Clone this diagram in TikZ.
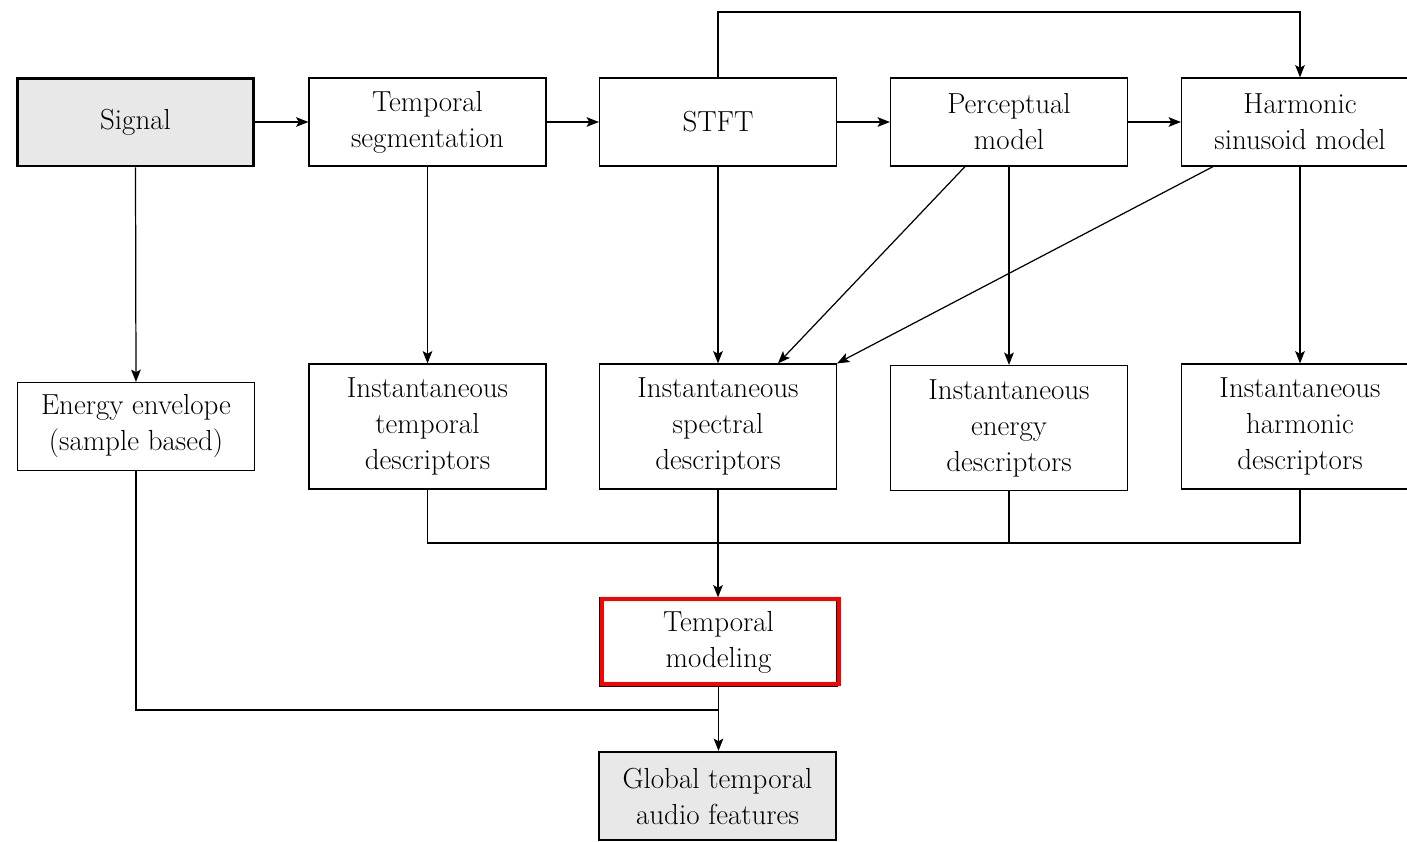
\documentclass[tikz,border=0pt]{standalone}
\usetikzlibrary{positioning,arrows.meta}
\definecolor{boxgray}{RGB}{232,232,232}
\tikzset{
  block/.style={draw, line width=0.7pt, fill=white, align=center,
    minimum width=4.74cm, minimum height=1.76cm, inner sep=2pt,
    font=\fontsize{16.5}{20.5}\selectfont},
  tallblock/.style={block, minimum height=2.5cm},
  endblock/.style={block, fill=boxgray, line width=1.3pt},
  wire/.style={line width=0.7pt}
}
\begin{document}
\begin{tikzpicture}[>={Stealth[length=7pt,width=5.5pt,inset=1.5pt]}, x=0.02cm, y=-0.02cm]
  \useasboundingbox[fill=white] (0,0) rectangle (1407,842);
  % Top row
  \node[endblock, line width=1.7pt] (signal) at (135.5,122) {Signal};
  \node[block] (seg) at (427.5,122) {Temporal\\segmentation};
  \node[block] (stft) at (718,122) {STFT};
  \node[block] (percep) at (1009,122) {Perceptual\\model};
  \node[block] (harm) at (1300,122) {Harmonic\\sinusoid model};
  % Descriptor row
  \node[block] (energy) at (136,426.5) {Energy envelope\\(sample based)};
  \node[tallblock] (itemp) at (427.5,426.5) {Instantaneous\\temporal\\descriptors};
  \node[tallblock] (ispec) at (718,426.5) {Instantaneous\\spectral\\descriptors};
  \node[tallblock] (ienergy) at (1009,428) {Instantaneous\\energy\\descriptors};
  \node[tallblock] (iharm) at (1300,426.5) {Instantaneous\\harmonic\\descriptors};
  % Modeling and output
  \node[block] (tmodel) at (718.5,642) {Temporal\\modeling};
  \draw[red, line width=2.4pt] ([shift={(2.5,-2.5)}]tmodel.south west) rectangle ([shift={(1.5,1.5)}]tmodel.north east);
  \node[endblock] (global) at (717.5,796) {Global temporal\\audio features};
  % Helper coordinates
  \coordinate (top) at (0,12);
  \coordinate (bus) at (0,543);
  \coordinate (join) at (0,710);
  % Top row arrows
  \draw[wire,->] (signal) -- (seg);
  \draw[wire,->] (seg) -- (stft);
  \draw[wire,->] (stft) -- (percep);
  \draw[wire,->] (percep) -- (harm);
  \draw[wire,->] (stft.north) -- (stft.north |- top) -| (harm.north);
  % Down to descriptors
  \draw[wire,->] (signal.south) -- (energy.north);
  \draw[wire,->] (seg.south) -- (itemp.north);
  \draw[wire,->] (stft.south) -- (ispec.north);
  \draw[wire,->] (percep.south) -- (ienergy.north);
  \draw[wire,->] (harm.south) -- (iharm.north);
  \draw[wire,->] ([xshift=-0.88cm]percep.south) -- ([xshift=1.2cm]ispec.north);
  \draw[wire,->] ([xshift=-1.74cm]harm.south) -- (ispec.north east);
  % Collecting bus
  \draw[wire] (itemp.south) -- (itemp.south |- bus) -- (iharm.south |- bus) -- (iharm.south);
  \draw[wire] (ienergy.south) -- (ienergy.south |- bus);
  \draw[wire,->] (ispec.south) -- (ispec.south |- tmodel.north);
  \draw[wire] (energy.south) |- (tmodel.south |- join);
  \draw[wire,->] (tmodel.south) -- (tmodel.south |- global.north);
\end{tikzpicture}
\end{document}
